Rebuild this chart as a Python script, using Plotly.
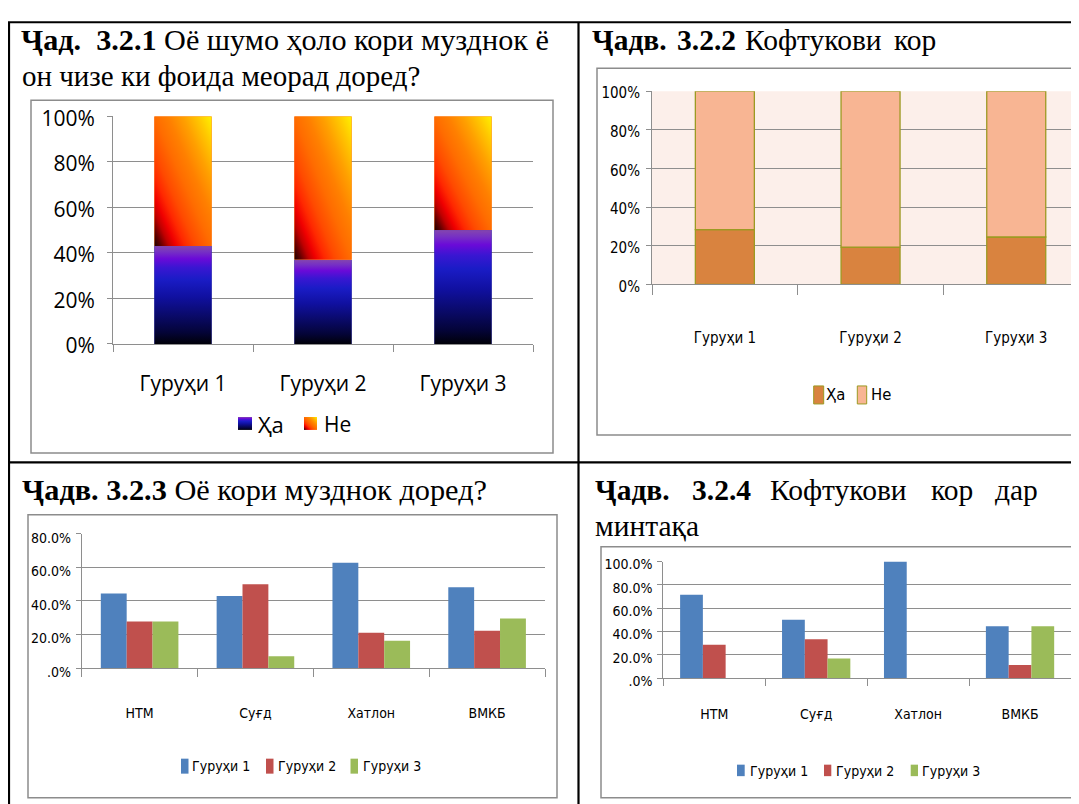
import base64
import plotly.graph_objects as go

# Page placement of the figure as observed in the photographed page:
# screen_x = fig_x + OX ; screen_y = SY * (fig_y + TY)
FW, FH = 1071, 806
OX, SY, TY = 8, 0.966, 21.5

# ---------------- data ----------------
groups = ["Гуруҳи 1", "Гуруҳи 2", "Гуруҳи 3"]
answers = ["Ҳа", "Не"]

# Chart 3.2.1 (share of answers per group)
c1_yes = [0.43, 0.37, 0.50]
c1_no = [0.57, 0.63, 0.50]

# Chart 3.2.2
c2_yes = [0.283, 0.193, 0.245]
c2_no = [0.717, 0.807, 0.755]

regions = ["НТМ", "Суғд", "Хатлон", "ВМКБ"]
# Chart 3.2.3
c3_g1 = [0.444, 0.429, 0.627, 0.481]
c3_g2 = [0.278, 0.500, 0.210, 0.222]
c3_g3 = [0.278, 0.071, 0.163, 0.296]
# Chart 3.2.4
c4_g1 = [0.714, 0.500, 1.000, 0.444]
c4_g2 = [0.286, 0.333, 0.000, 0.111]
c4_g3 = [0.000, 0.167, 0.000, 0.444]

c12_tickvals = [0, 0.2, 0.4, 0.6, 0.8, 1.0]
c3_tickvals = [0, 0.2, 0.4, 0.6, 0.8]
c3_ticktext = [".0%", "20.0%", "40.0%", "60.0%", "80.0%"]
c4_tickvals = [0, 0.2, 0.4, 0.6, 0.8, 1.0]
c4_ticktext = [".0%", "20.0%", "40.0%", "60.0%", "80.0%", "100.0%"]

title1_line1 = "<b>Ҷад.  3.2.1</b> Оё шумо ҳоло кори музднок ё"
title1_line2 = "он чизе ки фоида меорад доред?"
title2_words = ["<b>Ҷадв.</b>", "<b>3.2.2</b>", "Кофтукови", "кор"]
title3 = "<b>Ҷадв. 3.2.3</b> Оё кори музднок доред?"
title4_words = ["<b>Ҷадв.</b>", "<b>3.2.4</b>", "Кофтукови", "кор", "дар"]
title4_line2 = "минтақа"

# ---------------- styling helpers ----------------
SERIF = "Liberation Serif, Times New Roman, serif"
SANS = "Open Sans, Noto Sans, sans-serif"
NARROW = "Liberation Sans Narrow, Arial Narrow, DejaVu Sans Condensed, Roboto Condensed, Noto Sans, sans-serif"
GRID = "#8e8e8e"
BLUE, RED, GREEN = "#4f81bd", "#c0504d", "#9bbb59"
C2_YES, C2_NO, C2_EDGE = "#d9833f", "#f8b593", "#9c9a22"


def PX(x):
    return (x - OX) / FW


def PY(y):
    return 1 - (y / SY - TY) / FH


def PYc(y):
    # clamp to the drawable page area
    return min(max(PY(y), 1.3 / FH), 1 - 1.3 / FH)


def HX(w):
    return w / FW


def HY(h):
    return h / SY / FH


def svg_uri(x1, y1, x2, y2, stops):
    s = "".join(f'<stop offset="{o}" stop-color="{c}"/>' for o, c in stops)
    svg = ('<svg xmlns="http://www.w3.org/2000/svg" width="100" height="100" '
           'viewBox="0 0 100 100" preserveAspectRatio="none"><defs>'
           f'<linearGradient id="g" x1="{x1}" y1="{y1}" x2="{x2}" y2="{y2}">{s}</linearGradient>'
           '</defs><rect x="0" y="0" width="100" height="100" fill="url(#g)"/></svg>')
    return "data:image/svg+xml;base64," + base64.b64encode(svg.encode()).decode()


YES_GRAD = svg_uri(0, 1, 0, 0, [
    (0, "#000008"), (0.12, "#040438"), (0.3, "#0a0a6c"), (0.48, "#1010a0"),
    (0.66, "#1a1cc6"), (0.78, "#3a16d2"), (0.87, "#6a0ad8"), (0.94, "#7630c4"), (1, "#8446ae")])
NO_GRAD = svg_uri(0, 1, 1, 0, [
    (0, "#1a0000"), (0.06, "#600000"), (0.13, "#c00000"), (0.19, "#f00000"),
    (0.27, "#ff2800"), (0.36, "#ff4a00"), (0.5, "#ff6c00"), (0.62, "#ff8000"),
    (0.75, "#ffa000"), (0.88, "#ffc800"), (1, "#fff200")])

fig = go.Figure()

# ---------------- chart 3.2.1 ----------------
xpos = list(range(len(groups)))
BW1 = 0.41
fig.add_bar(x=xpos, y=c1_yes, name=answers[0], width=BW1, offset=-BW1 / 2,
            marker=dict(color="#1a1a9a", line=dict(width=0)), xaxis="x", yaxis="y", showlegend=False)
fig.add_bar(x=xpos, y=c1_no, base=c1_yes, name=answers[1], width=BW1, offset=-BW1 / 2,
            marker=dict(color="#ff6a00", line=dict(width=0)), xaxis="x", yaxis="y", showlegend=False)

images = []
for i, (a, b) in enumerate(zip(c1_yes, c1_no)):
    images.append(dict(source=YES_GRAD, xref="x", yref="y", x=i - BW1 / 2, y=a, sizex=BW1, sizey=a,
                       xanchor="left", yanchor="top", sizing="stretch", layer="above"))
    images.append(dict(source=NO_GRAD, xref="x", yref="y", x=i - BW1 / 2, y=a + b, sizex=BW1, sizey=b,
                       xanchor="left", yanchor="top", sizing="stretch", layer="above"))
# legend swatches (gradient)
images.append(dict(source=YES_GRAD, xref="paper", yref="paper", x=PX(238), y=PY(417), sizex=HX(14),
                   sizey=HY(13), xanchor="left", yanchor="top", sizing="stretch", layer="above"))
images.append(dict(source=NO_GRAD, xref="paper", yref="paper", x=PX(304), y=PY(417), sizex=HX(13),
                   sizey=HY(13), xanchor="left", yanchor="top", sizing="stretch", layer="above"))

# ---------------- chart 3.2.2 ----------------
BW2 = 0.405
fig.add_bar(x=groups, y=c2_yes, name=answers[0], width=BW2, offset=-BW2 / 2,
            marker=dict(color=C2_YES, line=dict(color=C2_EDGE, width=1.3)),
            xaxis="x2", yaxis="y2", showlegend=False)
fig.add_bar(x=groups, y=c2_no, base=c2_yes, name=answers[1], width=BW2, offset=-BW2 / 2,
            marker=dict(color=C2_NO, line=dict(color=C2_EDGE, width=1.3)),
            xaxis="x2", yaxis="y2", showlegend=False)

# ---------------- chart 3.2.3 ----------------
for vals, col, nm in zip([c3_g1, c3_g2, c3_g3], [BLUE, RED, GREEN], groups):
    fig.add_bar(x=regions, y=vals, name=nm, marker=dict(color=col, line=dict(width=0)),
                xaxis="x3", yaxis="y3", showlegend=False)

# ---------------- chart 3.2.4 ----------------
for vals, col, nm in zip([c4_g1, c4_g2, c4_g3], [BLUE, RED, GREEN], groups):
    fig.add_bar(x=regions, y=vals, name=nm, marker=dict(color=col, line=dict(width=0)),
                xaxis="x4", yaxis="y4", showlegend=False)


def yax(domain, rng, font, **kw):
    d = dict(domain=domain, range=rng, ticks="outside", ticklen=5, tickcolor=GRID, tickwidth=1,
             showline=True, linecolor=GRID, linewidth=1, showgrid=True, gridcolor=GRID, gridwidth=1,
             zeroline=False, tickfont=font, fixedrange=True)
    d.update(kw)
    return d


def xax(domain, rng, font, **kw):
    d = dict(domain=domain, range=rng, showline=True, linecolor=GRID, linewidth=1, showgrid=False,
             zeroline=False, tickfont=font, fixedrange=True, tickcolor=GRID, tickwidth=1)
    d.update(kw)
    return d


f1 = dict(family=SANS, size=21, color="#000000")
fn2 = dict(family=NARROW, size=15, color="#000000")
fn3 = dict(family=NARROW, size=14, color="#000000")

c2_right = -0.5 + (1079 - 652) / 145.7

layout = dict(
    width=FW, height=FH, margin=dict(l=0, r=0, t=0, b=0),
    paper_bgcolor="#ffffff", plot_bgcolor="rgba(0,0,0,0)",
    barmode="group", bargap=0.33, bargroupgap=0, showlegend=False,
    xaxis=xax([PX(113), PX(533)], [-0.5, 2.5], f1, anchor="y", tickmode="array", tickvals=xpos,
              ticktext=groups, ticks="", ticklabelstandoff=21,
              minor=dict(tickmode="array", tickvals=[-0.5, 0.5, 1.5, 2.5], ticks="outside", ticklen=7,
                         tickcolor=GRID, showgrid=False)),
    yaxis=yax([PY(344), PY(116)], [0, 1], f1, anchor="x", tickvals=c12_tickvals, tickformat=".0%",
              ticklabelstandoff=8, ticklabelshift=2),
    xaxis2=xax([PX(652), 1.0], [-0.5, c2_right], fn2, anchor="y2", type="category", tickson="boundaries",
               ticks="outside", ticklen=10, ticklabelstandoff=40),
    yaxis2=yax([PY(284.3), PY(91)], [0, 1], fn2, anchor="x2", tickvals=c12_tickvals, tickformat=".0%",
               ticklabelstandoff=3, ticklabelshift=2),
    xaxis3=xax([PX(81.7), PX(545)], [-0.5, 3.5], fn3, anchor="y3", type="category", tickson="boundaries",
               ticks="outside", ticklen=8, ticklabelstandoff=32),
    yaxis3=yax([PY(668.3), PY(534)], [0, 0.8], fn3, anchor="x3", tickvals=c3_tickvals,
               ticktext=c3_ticktext, ticklabelstandoff=2, ticklabelshift=4),
    xaxis4=xax([PX(663.3), PX(1071)], [-0.5, 3.5], fn3, anchor="y4", type="category", tickson="boundaries",
               ticks="outside", ticklen=7, ticklabelstandoff=23),
    yaxis4=yax([PY(678.3), PY(561.7)], [0, 1], fn3, anchor="x4", tickvals=c4_tickvals,
               ticktext=c4_ticktext, ticklabelstandoff=2, ticklabelshift=3),
    images=images,
)

shapes = []
# chart 2 plot background
shapes.append(dict(type="rect", xref="x2 domain", yref="y2 domain", x0=0, x1=1, y0=0, y1=1,
                   fillcolor="#fcefea", line=dict(width=0), layer="below"))
# chart frames
for x0, y0, x1, y1 in [(31, 100, 553, 453), (597, 68, 1100, 435), (28, 515, 557, 802), (601, 547, 1100, 803)]:
    shapes.append(dict(type="rect", xref="paper", yref="paper", x0=PX(x0), x1=PX(x1), y0=PYc(y1), y1=PYc(y0),
                       line=dict(color="#8c8c8c", width=1.5), fillcolor="rgba(0,0,0,0)", layer="below"))
# table borders (top edge drawn at the top of the page area)
top_y = PYc(15)
for x0, x1, y0, y1 in [(8, 1100, top_y, top_y), (9, 9, top_y, PY(830)), (578.5, 578.5, top_y, PY(830)),
                       (8, 1100, PY(462.5), PY(462.5))]:
    shapes.append(dict(type="line", xref="paper", yref="paper", x0=PX(x0), x1=PX(x1), y0=y0, y1=y1,
                       line=dict(color="#000000", width=2.2), layer="above"))
# legend swatches charts 2-4
for x0, x1, col in [(813.7, 823.7, C2_YES), (857.3, 866.7, C2_NO)]:
    shapes.append(dict(type="rect", xref="paper", yref="paper", x0=PX(x0), x1=PX(x1), y0=PY(404), y1=PY(386),
                       fillcolor=col, line=dict(color=C2_EDGE, width=1), layer="above"))
for x0, x1, col in [(181, 188.5, BLUE), (266, 273.5, RED), (350.5, 358, GREEN)]:
    shapes.append(dict(type="rect", xref="paper", yref="paper", x0=PX(x0), x1=PX(x1), y0=PY(774), y1=PY(759),
                       fillcolor=col, line=dict(width=0), layer="above"))
for x0, x1, col in [(737, 744.7, BLUE), (824, 831.3, RED), (910.7, 918, GREEN)]:
    shapes.append(dict(type="rect", xref="paper", yref="paper", x0=PX(x0), x1=PX(x1), y0=PY(776.5), y1=PY(765),
                       fillcolor=col, line=dict(width=0), layer="above"))
layout["shapes"] = shapes

ann = []


def txt(x, y, s, font):
    ann.append(dict(x=PX(x), y=PY(y), xref="paper", yref="paper", text=s, showarrow=False,
                    xanchor="left", yanchor="middle", font=font, align="left"))


def serif(size):
    return dict(family=SERIF, size=size, color="#000000")


txt(19, 40, title1_line1, serif(30.2))
txt(20, 76, title1_line2, serif(29))
for xw, w in zip([593, 678, 746, 895], title2_words):
    txt(xw - 3, 40, w, serif(29.5))
txt(20, 490, title3, serif(30.3))
for xw, w in zip([596, 693, 771, 932, 996], title4_words):
    txt(xw - 3, 490, w, serif(29.5))
txt(593, 526, title4_line2, serif(29.5))

# legends
txt(256, 424, answers[0], dict(family=SANS, size=22, color="#000000"))
txt(322, 424, answers[1], dict(family=SANS, size=21, color="#000000"))
txt(824, 395, answers[0], dict(family=NARROW, size=16.5, color="#000000"))
txt(869, 395, answers[1], dict(family=NARROW, size=16.5, color="#000000"))
for xl, nm in zip([190, 276, 361], groups):
    txt(xl, 766, nm, fn3)
for xl, nm in zip([748, 834, 920], groups):
    txt(xl, 771, nm, fn3)

layout["annotations"] = ann
fig.update_layout(**layout)
fig.write_html("out.html")
